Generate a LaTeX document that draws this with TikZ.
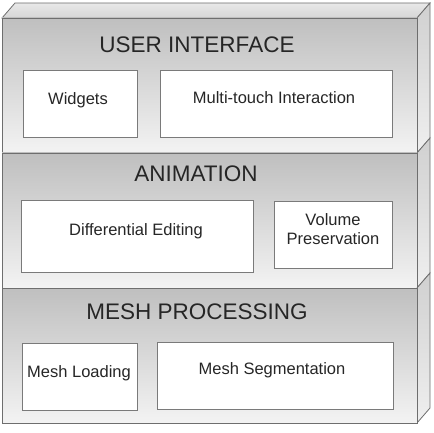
\documentclass[tikz,border=0pt]{standalone}
\usepackage{fontspec}
\setmainfont{Liberation Sans}
\definecolor{edge}{HTML}{6E6E6E}
\definecolor{facetop}{HTML}{BFBFBF}
\definecolor{facebot}{HTML}{F3F3F3}
\definecolor{sidetop}{HTML}{D0D0D0}
\definecolor{sidebot}{HTML}{EFEFEF}
\definecolor{lidA}{HTML}{E8E8E8}
\definecolor{lidB}{HTML}{D6D6D6}
\definecolor{boxline}{HTML}{7A7A7A}
\begin{document}
\begin{tikzpicture}[x=1pt,y=-1pt,
  inner/.style={draw=boxline, line width=0.9pt, fill=white, inner sep=0pt, align=center},
  label/.style={font=\fontsize{16.5}{19.5}\selectfont, text=black!85, align=center},
  title/.style={font=\fontsize{22.5}{26}\selectfont, text=black!85, inner sep=0pt},
  frontface/.style={top color=facetop, bottom color=facebot, draw=edge, line width=0.8pt},
  sideface/.style={top color=sidetop, bottom color=sidebot, draw=edge, line width=0.8pt},
]
\useasboundingbox (0,0) rectangle (434,433);
% top lid
\shade[top color=lidA, bottom color=lidB, draw=edge, line width=0.8pt]
  (2,18) -- (15,3) -- (430,3) -- (417,18) -- cycle;
% layers
\foreach \yt/\yb in {18/153,153/288,288/423}{
  \shade[sideface] (417,\yt) -- (430,\yt-15) -- (430,\yb-15) -- (417,\yb) -- cycle;
  \shade[frontface] (2,\yt) rectangle (417,\yb);
}
% layer 1
\node[title] (ui) at (197,45) {USER INTERFACE};
\node[inner, minimum width=114pt, minimum height=67pt] (widgets) at (80,103.5) {};
\node[label] (widgetsT) at (78,100) {Widgets};
\node[inner, minimum width=232pt, minimum height=67pt] (multi) at (276,103.5) {};
\node[label] (multiT) at (274,98) {Multi-touch Interaction};
% layer 2
\node[title] (anim) at (196,174) {ANIMATION};
\node[inner, minimum width=232pt, minimum height=72pt] (diff) at (137,236) {};
\node[label] (diffT) at (136,231) {Differential Editing};
\node[inner, minimum width=118pt, minimum height=67pt] (vol) at (333,234.5) {};
\node[label] (volT) at (333,229) {Volume\\[-1pt]Preservation};
% layer 3
\node[title] (mesh) at (197,312) {MESH PROCESSING};
\node[inner, minimum width=115pt, minimum height=67pt] (load) at (79.5,376.5) {};
\node[label] (loadT) at (79,373) {Mesh Loading};
\node[inner, minimum width=236pt, minimum height=67pt] (seg) at (275,375.5) {};
\node[label] (segT) at (272,370) {Mesh Segmentation};
\end{tikzpicture}
\end{document}
